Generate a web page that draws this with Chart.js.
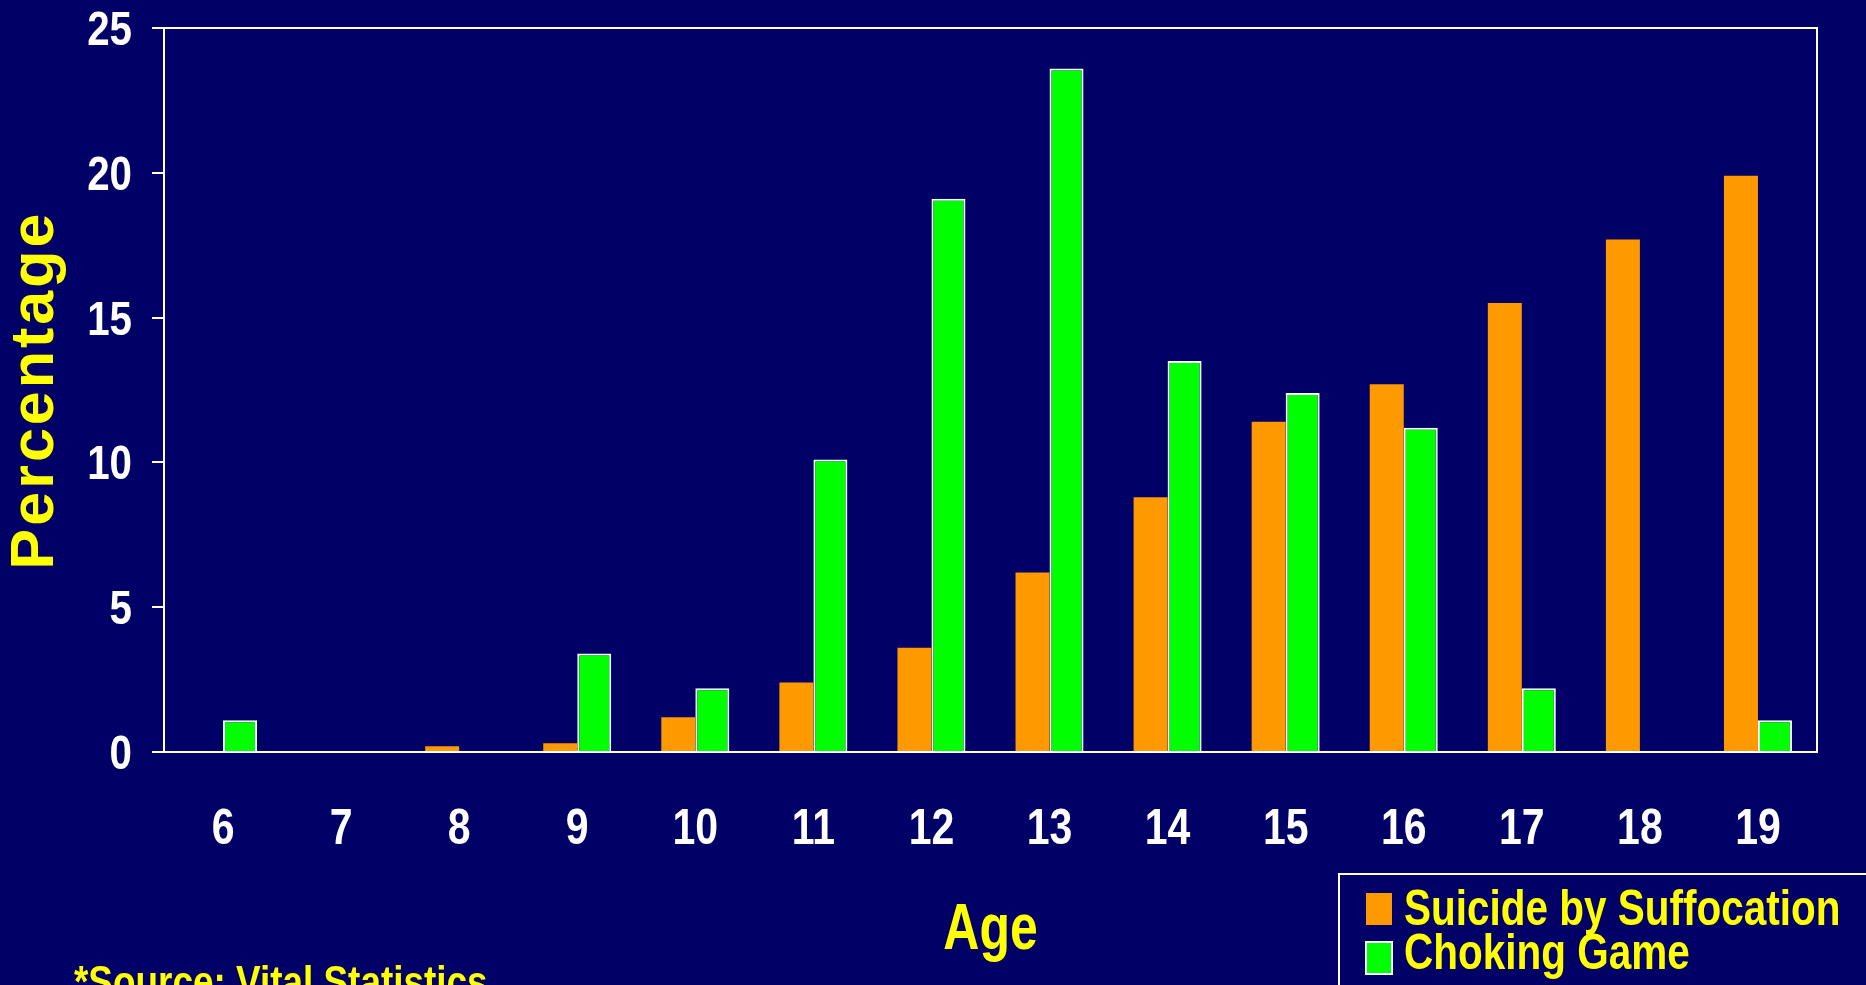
<!DOCTYPE html>
<html>
<head>
<meta charset="utf-8">
<script src="https://cdn.jsdelivr.net/npm/chart.js@4"></script>
<style>
  html, body { margin: 0; padding: 0; background: #000066; overflow: hidden; }
  canvas { display: block; }
</style>
</head>
<body>
<canvas id="age-bar" width="1866" height="985"></canvas>
<script>
// values (percent of cases per age)
var ages = ["6", "7", "8", "9", "10", "11", "12", "13", "14", "15", "16", "17", "18", "19"];
var suicideBySuffocation = [0, 0, 0.2, 0.3, 1.2, 2.4, 3.6, 6.2, 8.8, 11.4, 12.7, 15.5, 17.7, 19.9];
var chokingGame = [1.1, 0, 0, 3.4, 2.2, 10.1, 19.1, 23.6, 13.5, 12.4, 11.2, 2.2, 0, 1.1];
var yTickValues = [0, 5, 10, 15, 20, 25];
var xTitle = "Age";
var yTitle = "Percentage";
var sourceNote = "*Source: Vital Statistics";

var sans = '"Liberation Sans", Arial, sans-serif';

// no narrow face installed, so squeeze the bold face horizontally
function squeezed(ctx, text, x, y, align, sx) {
	ctx.save();
	ctx.translate(x, y);
	ctx.scale(sx, 1);
	ctx.textAlign = align;
	ctx.textBaseline = 'alphabetic';
	ctx.fillText(text, 0, 0);
	ctx.restore();
}

// white frame on top / right of the plot area, spaced-out y title
var framePlugin = {
	id: 'frame',
	beforeDraw: function(chart) {
		chart.ctx.letterSpacing = '3px';
	},
	beforeDatasetsDraw: function(chart) {
		var a = chart.chartArea, ctx = chart.ctx;
		ctx.save();
		ctx.strokeStyle = '#ffffff';
		ctx.lineWidth = 2;
		ctx.beginPath();
		ctx.moveTo(a.left, a.top);
		ctx.lineTo(a.right, a.top);
		ctx.lineTo(a.right, a.bottom);
		ctx.stroke();
		ctx.restore();
	}
};

// tick labels, x title, legend box and source note in the narrow look
var labelsPlugin = {
	id: 'narrowLabels',
	afterDraw: function(chart) {
		var ctx = chart.ctx, xs = chart.scales.x, ys = chart.scales.y, a = chart.chartArea;
		ctx.save();
		ctx.letterSpacing = '0px';

		ctx.fillStyle = '#ffffff';
		ctx.font = 'bold 50px ' + sans;
		xs.ticks.forEach(function(t, i) {
			squeezed(ctx, xs.getLabelForValue(t.value), xs.getPixelForTick(i), 844, 'center', 0.82);
		});
		ctx.font = 'bold 48px ' + sans;
		ys.ticks.forEach(function(t) {
			squeezed(ctx, String(t.value), 132, ys.getPixelForValue(t.value) + 17, 'right', 0.84);
		});

		ctx.fillStyle = '#ffff00';
		ctx.font = 'bold 64px ' + sans;
		squeezed(ctx, xTitle, (a.left + a.right) / 2, 949, 'center', 0.78);

		// legend
		ctx.strokeStyle = '#ffffff';
		ctx.lineWidth = 2;
		ctx.strokeRect(1339, 874, 530, 200);
		ctx.font = 'bold 50px ' + sans;
		chart.data.datasets.forEach(function(ds, i) {
			var top = 893 + i * 49;
			ctx.fillStyle = ds.backgroundColor;
			ctx.fillRect(1366, top, 26, 32);
			if (ds.borderWidth) {
				ctx.strokeStyle = ds.borderColor;
				ctx.lineWidth = 2;
				ctx.strokeRect(1366, top, 26, 32);
			}
			ctx.fillStyle = '#ffff00';
			squeezed(ctx, ds.label, 1404, 925 + i * 44, 'left', 0.81);
		});

		ctx.font = 'bold 45px ' + sans;
		ctx.fillStyle = '#ffff00';
		squeezed(ctx, sourceNote, 74, 997, 'left', 0.82);
		ctx.restore();
	}
};

new Chart(document.getElementById("age-bar"), {
	type: 'bar',
	data: {
		labels: ages,
		datasets: [
			{
				label: "Suicide by Suffocation",
				backgroundColor: "#ff9900",
				borderWidth: 0,
				data: suicideBySuffocation
			}, {
				label: "Choking Game",
				backgroundColor: "#00ff00",
				borderColor: "#ffffff",
				borderWidth: 2,
				data: chokingGame
			}
		]
	},
	options: {
		responsive: false,
		animation: false,
		devicePixelRatio: 1,
		categoryPercentage: 0.576,
		barPercentage: 1,
		layout: { padding: { top: 28, right: 49, left: 0, bottom: 0 } },
		plugins: {
			legend: { display: false },
			tooltip: { enabled: false }
		},
		scales: {
			x: {
				grid: { display: false },
				border: { display: true, color: '#ffffff', width: 2 },
				ticks: { display: false },
				afterFit: function(scale) { scale.height = 233; }
			},
			y: {
				min: 0,
				max: 25,
				afterBuildTicks: function(scale) {
					scale.ticks = yTickValues.map(function(v) { return { value: v }; });
				},
				grid: {
					drawOnChartArea: false,
					drawTicks: true,
					tickLength: 12,
					color: '#ffffff',
					lineWidth: 2
				},
				border: { display: true, color: '#ffffff', width: 2 },
				ticks: { display: false },
				title: {
					display: true,
					text: yTitle,
					color: '#ffff00',
					padding: 0,
					font: { family: sans, size: 61, weight: 'bold' }
				},
				afterFit: function(scale) { scale.width = 164; }
			}
		}
	},
	plugins: [framePlugin, labelsPlugin]
});
</script>
</body>
</html>
